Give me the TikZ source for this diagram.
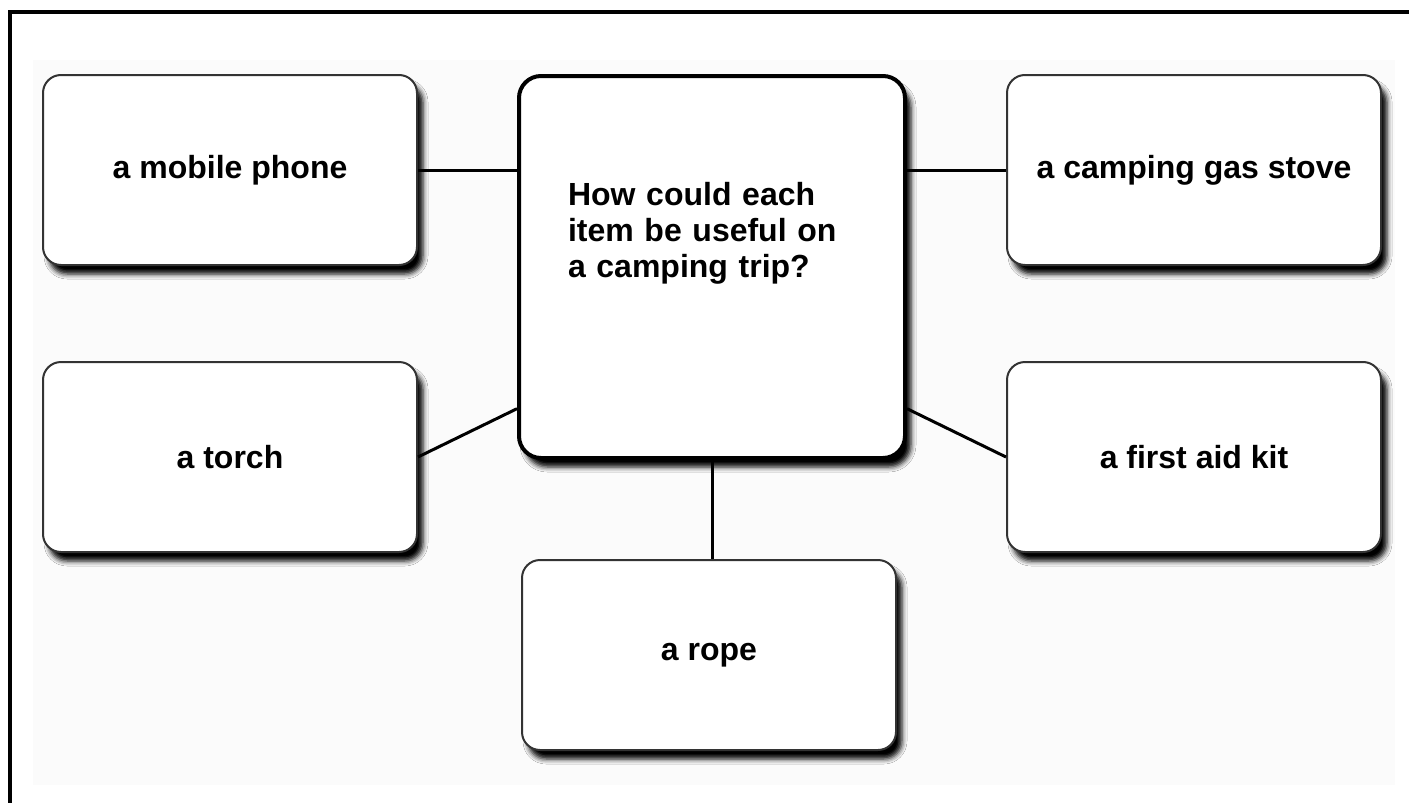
\documentclass[tikz,border=0pt]{standalone}
\usepackage{fontspec}
\setmainfont{Liberation Sans}
\usetikzlibrary{positioning, calc, shadows.blur}

\begin{document}
\begin{tikzpicture}[
  x=1pt, y=-1pt,
  itembox/.style={rectangle, rounded corners=18pt, draw=black!80, line width=2pt, fill=white, minimum width=374pt, minimum height=190pt, align=center, font=\bfseries\fontsize{32}{36}\selectfont, blur shadow={shadow xshift=6pt, shadow yshift=-9pt, shadow blur radius=5pt, shadow opacity=100}},
  qbox/.style={rectangle, rounded corners=22pt, draw=black, line width=4pt, fill=white, minimum width=386pt, minimum height=382pt, text width=288pt, align=left, text depth=146pt, font=\bfseries\fontsize{32}{36}\selectfont, blur shadow={shadow xshift=6pt, shadow yshift=-9pt, shadow blur radius=5pt, shadow opacity=100}},
  link/.style={line width=3pt},
  frame/.style={line width=4pt}
]
\useasboundingbox (0,0) rectangle (1409,803);

% Frame and background
\fill[black!1.5] (33,60) rectangle (1395,785);
\draw[frame] (10,12) rectangle (1430,830);

% Central question
\node[qbox] (q) at (712,267) {How could each\\item be useful on\\a camping trip?};

% Items
\node[itembox, left=99pt of q.north west, anchor=north east] (phone) {a mobile phone};
\node[itembox, below=95pt of phone] (torch) {a torch};
\node[itembox, right=99pt of q.north east, anchor=north west] (stove) {a camping gas stove};
\node[itembox, below=95pt of stove] (aid) {a first aid kit};
\node[itembox, below=99pt of q, xshift=-3pt] (rope) {a rope};

% Links
\draw[link] (phone.east) -- (phone.east -| q.west);
\draw[link] (stove.west -| q.east) -- (stove.west);
\draw[link] (torch.east) -- (q.216);
\draw[link] (aid.west) -- (q.324);
\draw[link] (q.south) -- (q.south |- rope.north);

\end{tikzpicture}
\end{document}
